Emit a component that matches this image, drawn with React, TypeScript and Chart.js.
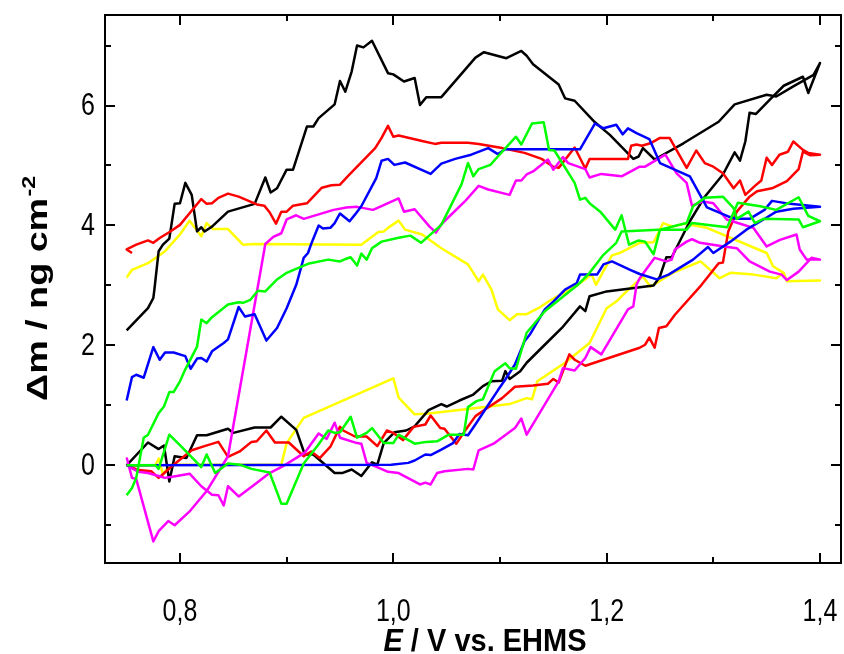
import React, { useEffect, useRef } from "react";
import { Chart, registerables } from "chart.js";

Chart.register(...registerables);

// Mass change Δm (ng cm^-2) against electrode potential E (V vs. EHMS),
// one closed loop per sweep: anodic branch first, then the return sweep.
const blackLoop: [number, number][] = [
  [0.75, 0.0], [0.77, 0.38], [0.78, 0.27], [0.785, 0.33], [0.79, -0.27], [0.795, 0.15],
  [0.806, 0.12], [0.816, 0.5], [0.825, 0.5], [0.845, 0.61], [0.85, 0.54], [0.87, 0.63],
  [0.885, 0.63], [0.895, 0.81], [0.909, 0.59], [0.917, 0.18], [0.925, 0.18], [0.945, -0.13],
  [0.952, -0.13], [0.961, -0.07], [0.97, -0.18], [0.98, 0.05], [0.985, 0.01], [0.991, 0.37],
  [1.001, 0.55], [1.012, 0.58], [1.02, 0.65], [1.033, 0.92], [1.045, 1.02], [1.05, 0.98],
  [1.062, 1.08], [1.075, 1.18], [1.084, 1.32], [1.092, 1.4], [1.102, 1.41], [1.105, 1.57],
  [1.109, 1.44], [1.119, 1.57], [1.125, 1.71], [1.142, 2.01], [1.158, 2.29], [1.175, 2.65],
  [1.18, 2.57], [1.184, 2.82], [1.2, 2.9], [1.244, 3.0], [1.25, 3.15], [1.256, 3.47],
  [1.261, 3.47], [1.278, 4.07], [1.292, 4.48], [1.309, 4.85], [1.32, 5.22], [1.325, 5.08],
  [1.33, 5.4], [1.334, 5.88], [1.34, 5.86], [1.353, 6.1], [1.366, 6.33], [1.378, 6.43],
  [1.384, 6.48], [1.389, 6.21], [1.4, 6.71],
  [1.394, 6.51], [1.375, 6.32], [1.359, 6.15], [1.35, 6.18], [1.32, 6.02], [1.305, 5.73],
  [1.272, 5.37], [1.245, 5.1], [1.234, 5.29], [1.23, 5.15], [1.225, 5.11], [1.203, 5.51],
  [1.189, 5.72], [1.17, 6.08], [1.161, 6.12], [1.155, 6.35], [1.131, 6.69], [1.125, 6.83],
  [1.12, 6.91], [1.106, 6.79], [1.085, 6.89], [1.077, 6.8], [1.045, 6.14], [1.031, 6.14],
  [1.025, 6.01], [1.02, 6.46], [1.01, 6.4], [1.0, 6.52], [0.995, 6.54], [0.98, 7.08],
  [0.972, 6.97], [0.966, 7.0], [0.961, 6.57], [0.955, 6.23], [0.95, 6.41], [0.945, 6.02],
  [0.93, 5.79], [0.925, 5.65], [0.919, 5.65], [0.906, 4.93], [0.9, 4.93], [0.891, 4.62],
  [0.885, 4.55], [0.88, 4.8], [0.87, 4.36], [0.845, 4.23], [0.83, 3.98], [0.823, 3.9],
  [0.82, 3.97], [0.816, 3.9], [0.811, 4.51], [0.805, 4.71], [0.8, 4.37], [0.795, 4.36],
  [0.79, 3.78], [0.784, 3.68], [0.78, 3.57], [0.776, 2.93], [0.775, 2.79], [0.77, 2.62],
  [0.75, 2.25],
];

const redLoop: [number, number][] = [
  [0.75, 0.0], [0.761, -0.08], [0.773, -0.1], [0.78, -0.21], [0.784, -0.15], [0.789, -0.07],
  [0.794, 0.01], [0.811, 0.25], [0.823, 0.32], [0.836, 0.39], [0.845, 0.14], [0.856, 0.23],
  [0.867, 0.39], [0.872, 0.4], [0.881, 0.58], [0.889, 0.38], [0.902, 0.38], [0.916, 0.15],
  [0.923, 0.23], [0.931, 0.12], [0.941, 0.31], [0.95, 0.64], [0.953, 0.58], [0.964, 0.48],
  [0.975, 0.48], [0.985, 0.32], [0.994, 0.58], [1.0, 0.54], [1.009, 0.42], [1.019, 0.64],
  [1.03, 0.68], [1.035, 0.83], [1.044, 0.62], [1.048, 0.61], [1.059, 0.36], [1.067, 0.57],
  [1.077, 0.82], [1.086, 0.93], [1.102, 1.12], [1.114, 1.31], [1.131, 1.33], [1.145, 1.36],
  [1.15, 1.44], [1.155, 1.38], [1.165, 1.85], [1.17, 1.76], [1.18, 1.66], [1.231, 1.96],
  [1.236, 2.01], [1.24, 2.13], [1.245, 1.96], [1.249, 2.29], [1.256, 2.32], [1.264, 2.51],
  [1.289, 3.01], [1.305, 3.37], [1.309, 3.38], [1.314, 3.9], [1.322, 4.23], [1.334, 4.48],
  [1.341, 4.57], [1.355, 4.62], [1.369, 4.74], [1.38, 4.94], [1.384, 5.23], [1.391, 5.17],
  [1.4, 5.18],
  [1.389, 5.21], [1.384, 5.26], [1.375, 5.4], [1.37, 5.23], [1.362, 5.18], [1.355, 5.01],
  [1.35, 5.13], [1.345, 4.75], [1.339, 4.66], [1.33, 4.51], [1.325, 4.75], [1.319, 4.62],
  [1.309, 4.87], [1.3, 4.98], [1.292, 5.04], [1.284, 5.25], [1.275, 4.96], [1.259, 5.46],
  [1.25, 5.46], [1.241, 5.37], [1.233, 5.33], [1.228, 5.35], [1.223, 5.33], [1.22, 5.11],
  [1.184, 5.11], [1.18, 4.95], [1.17, 5.3], [1.155, 4.96], [1.15, 4.98], [1.139, 5.11],
  [1.123, 5.21], [1.102, 5.29], [1.08, 5.36], [1.07, 5.38], [1.045, 5.38], [1.039, 5.36],
  [1.027, 5.41], [1.005, 5.5], [1.0, 5.48], [0.995, 5.66], [0.989, 5.46], [0.983, 5.29],
  [0.959, 4.85], [0.95, 4.68], [0.942, 4.67], [0.933, 4.63], [0.925, 4.48], [0.919, 4.37],
  [0.906, 4.33], [0.9, 4.23], [0.895, 4.23], [0.89, 4.03], [0.884, 4.22], [0.879, 4.33],
  [0.872, 4.35], [0.855, 4.48], [0.845, 4.53], [0.836, 4.46], [0.83, 4.37], [0.825, 4.36],
  [0.82, 4.44], [0.8, 4.01], [0.791, 3.9], [0.781, 3.79], [0.775, 3.71], [0.77, 3.75],
  [0.759, 3.68], [0.75, 3.6], [0.755, 3.54],
];

const blueLoop: [number, number][] = [
  [0.75, 0.0], [0.998, 0.01], [1.014, 0.04], [1.02, 0.08], [1.03, 0.18], [1.035, 0.17],
  [1.045, 0.26], [1.056, 0.37], [1.062, 0.52], [1.07, 0.5], [1.078, 0.71], [1.088, 0.98],
  [1.098, 1.25], [1.105, 1.43], [1.114, 1.68], [1.123, 2.07], [1.128, 2.18], [1.142, 2.6],
  [1.15, 2.73], [1.161, 2.93], [1.172, 3.04], [1.175, 3.18], [1.191, 3.18], [1.197, 3.35],
  [1.205, 3.4], [1.222, 3.26], [1.231, 3.19], [1.247, 3.1], [1.258, 3.18], [1.281, 3.43],
  [1.295, 3.64], [1.3, 3.54], [1.316, 3.73], [1.331, 3.93], [1.347, 4.1], [1.359, 4.23],
  [1.375, 4.28], [1.4, 4.31],
  [1.372, 4.36], [1.355, 4.41], [1.348, 4.26], [1.334, 4.11], [1.322, 4.11], [1.314, 4.15],
  [1.294, 4.3], [1.278, 4.82], [1.25, 5.04], [1.24, 5.44], [1.228, 5.54], [1.22, 5.62],
  [1.215, 5.52], [1.209, 5.68], [1.197, 5.62], [1.189, 5.7], [1.175, 5.27], [1.105, 5.27],
  [1.098, 5.19], [1.089, 5.29], [1.073, 5.18], [1.058, 5.11], [1.045, 5.03], [1.035, 4.86],
  [1.011, 5.05], [1.001, 5.01], [0.995, 5.11], [0.989, 5.08], [0.984, 4.79], [0.97, 4.32],
  [0.964, 4.18], [0.959, 4.07], [0.95, 4.2], [0.945, 4.04], [0.941, 3.96], [0.934, 3.95],
  [0.93, 4.0], [0.923, 3.69], [0.92, 3.54], [0.916, 3.46], [0.909, 3.01], [0.9, 2.62],
  [0.891, 2.29], [0.881, 2.08], [0.87, 2.52], [0.861, 2.48], [0.855, 2.64], [0.845, 2.1],
  [0.841, 2.04], [0.83, 1.9], [0.825, 1.73], [0.82, 1.79], [0.816, 1.78], [0.81, 1.61],
  [0.805, 1.82], [0.794, 1.88], [0.786, 1.88], [0.781, 1.76], [0.775, 1.97], [0.766, 1.46],
  [0.759, 1.51], [0.755, 1.47], [0.75, 1.08],
];

const yellowLoop: [number, number][] = [
  [0.75, 0.0], [0.777, 0.0], [0.78, 0.11], [0.784, -0.15], [0.791, 0.01], [0.895, 0.01],
  [0.9, 0.37], [0.916, 0.79], [1.0, 1.45], [1.005, 1.13], [1.02, 0.85], [1.031, 0.86],
  [1.08, 0.96], [1.109, 1.02], [1.125, 1.12], [1.13, 1.1], [1.135, 1.4], [1.161, 1.71],
  [1.184, 2.04], [1.2, 2.62], [1.209, 2.73], [1.217, 2.87], [1.234, 3.15], [1.241, 2.98],
  [1.262, 3.21], [1.288, 3.4], [1.306, 3.12], [1.316, 3.21], [1.338, 3.18], [1.359, 3.12],
  [1.366, 3.21], [1.369, 3.07], [1.4, 3.08],
  [1.369, 3.07], [1.366, 3.21], [1.356, 3.32], [1.35, 3.54], [1.294, 3.96], [1.273, 4.03],
  [1.262, 3.98], [1.253, 4.04], [1.244, 3.72], [1.231, 3.71], [1.212, 3.54], [1.205, 3.5],
  [1.19, 3.01], [1.186, 3.18], [1.173, 3.01], [1.148, 2.76], [1.136, 2.62], [1.125, 2.52],
  [1.116, 2.52], [1.109, 2.42], [1.098, 2.6], [1.092, 2.93], [1.084, 3.18], [1.08, 3.07],
  [1.07, 3.35], [1.045, 3.62], [1.027, 3.85], [1.011, 3.93], [1.005, 4.08], [0.995, 3.96],
  [0.991, 3.9], [0.986, 3.89], [0.97, 3.68], [0.87, 3.69], [0.859, 3.68], [0.845, 3.94],
  [0.831, 3.94], [0.825, 4.04], [0.82, 3.82], [0.809, 4.08], [0.8, 3.85], [0.786, 3.57],
  [0.77, 3.37], [0.755, 3.26], [0.75, 3.13],
];

const greenLoop: [number, number][] = [
  [0.75, 0.0], [0.777, 0.0], [0.78, -0.06], [0.79, 0.51], [0.802, 0.3], [0.82, -0.03],
  [0.825, 0.18], [0.833, -0.13], [0.845, 0.03], [0.856, 0.01], [0.867, -0.06], [0.884, -0.12],
  [0.895, -0.64], [0.9, -0.64], [0.916, 0.03], [0.93, 0.35], [0.939, 0.58], [0.945, 0.54],
  [0.95, 0.55], [0.96, 0.81], [0.966, 0.46], [0.975, 0.54], [0.98, 0.62], [0.991, 0.37],
  [1.0, 0.37], [1.005, 0.51], [1.02, 0.36], [1.031, 0.39], [1.041, 0.4], [1.052, 0.51],
  [1.066, 0.51], [1.07, 0.97], [1.078, 1.07], [1.084, 1.1], [1.095, 1.57], [1.105, 1.7],
  [1.109, 1.62], [1.115, 1.61], [1.125, 2.21], [1.142, 2.57], [1.173, 3.01], [1.184, 3.21],
  [1.197, 3.51], [1.209, 3.71], [1.214, 3.9], [1.248, 3.93], [1.275, 3.93], [1.28, 4.04],
  [1.313, 3.97], [1.323, 4.38], [1.344, 4.32], [1.359, 4.26], [1.38, 4.47], [1.389, 4.16],
  [1.4, 4.07],
  [1.384, 3.97], [1.38, 4.1], [1.347, 4.11], [1.339, 4.04], [1.333, 4.23], [1.322, 4.11],
  [1.319, 4.29], [1.309, 4.48], [1.292, 4.46], [1.281, 4.32], [1.275, 4.04], [1.25, 3.93],
  [1.244, 3.52], [1.236, 3.73], [1.23, 3.75], [1.221, 3.68], [1.214, 4.17], [1.208, 3.93],
  [1.194, 4.23], [1.184, 4.37], [1.18, 4.46], [1.175, 4.43], [1.17, 4.71], [1.151, 5.25],
  [1.146, 5.26], [1.141, 5.72], [1.13, 5.7], [1.12, 5.35], [1.115, 5.48], [1.098, 5.15],
  [1.091, 5.01], [1.08, 4.94], [1.075, 4.82], [1.07, 5.04], [1.064, 4.69], [1.045, 4.01],
  [1.026, 3.71], [1.016, 3.83], [1.006, 3.8], [0.989, 3.73], [0.98, 3.62], [0.975, 3.43],
  [0.97, 3.53], [0.966, 3.33], [0.96, 3.47], [0.955, 3.44], [0.95, 3.4], [0.939, 3.43],
  [0.92, 3.36], [0.9, 3.21], [0.891, 3.1], [0.886, 3.01], [0.88, 2.9], [0.873, 2.91],
  [0.866, 2.76], [0.859, 2.71], [0.855, 2.72], [0.845, 2.68], [0.83, 2.47], [0.825, 2.37],
  [0.82, 2.43], [0.816, 1.98], [0.805, 1.6], [0.8, 1.4], [0.794, 1.22], [0.79, 1.22],
  [0.785, 0.98], [0.78, 0.87], [0.77, 0.51], [0.766, 0.46], [0.759, -0.21], [0.755, -0.38],
  [0.75, -0.5],
];

const magentaLoop: [number, number][] = [
  [0.75, 0.0], [0.761, -0.11], [0.77, -0.13], [0.78, -0.18], [0.786, -0.21], [0.797, -0.18],
  [0.809, -0.14], [0.82, -0.35], [0.83, -0.49], [0.836, -0.5], [0.841, -0.67], [0.845, -0.35],
  [0.855, -0.52], [0.87, -0.32], [0.884, -0.13], [0.898, 0.0], [0.908, 0.11], [0.917, 0.21],
  [0.93, 0.53], [0.9375, 0.44], [0.945, 0.71], [0.95, 0.46], [0.966, 0.37], [0.97, 0.36],
  [0.975, 0.04], [0.986, -0.04], [0.995, -0.11], [1.005, -0.13], [1.025, -0.32], [1.03, -0.29],
  [1.035, -0.32], [1.041, -0.13], [1.048, -0.1], [1.07, -0.06], [1.075, -0.07], [1.08, 0.25],
  [1.094, 0.36], [1.114, 0.62], [1.12, 0.78], [1.125, 0.51], [1.155, 1.4], [1.159, 1.62],
  [1.17, 1.58], [1.18, 1.79], [1.185, 1.97], [1.195, 1.85], [1.22, 2.6], [1.225, 2.65],
  [1.228, 3.01], [1.231, 3.12], [1.245, 3.46], [1.256, 3.4], [1.261, 3.43], [1.264, 3.6],
  [1.275, 3.73], [1.28, 3.77], [1.2875, 3.71], [1.31, 3.65], [1.322, 3.62], [1.334, 3.4],
  [1.353, 3.23], [1.364, 3.18], [1.369, 3.09], [1.38, 3.23], [1.392, 3.46], [1.4, 3.43],
  [1.3875, 3.43], [1.381, 3.6], [1.378, 3.85], [1.3625, 3.76], [1.35, 3.65], [1.3375, 3.96],
  [1.323, 4.04], [1.3125, 4.1], [1.3, 4.37], [1.29, 4.4], [1.28, 4.33], [1.275, 4.71],
  [1.2656, 4.87], [1.255, 5.18], [1.236, 4.98], [1.231, 4.98], [1.214, 4.82], [1.195, 4.86],
  [1.184, 4.8], [1.18, 4.94], [1.164, 5.04], [1.159, 5.14], [1.15, 4.93], [1.145, 5.1],
  [1.131, 4.9], [1.125, 4.85], [1.12, 4.75], [1.115, 4.75], [1.109, 4.51], [1.089, 4.6],
  [1.08, 4.66], [1.067, 4.4], [1.045, 4.02], [1.04, 3.88], [1.034, 3.98], [1.02, 4.27],
  [1.01, 4.23], [1.005, 4.45], [0.981, 4.26], [0.966, 4.31], [0.956, 4.3], [0.944, 4.26],
  [0.916, 4.11], [0.909, 4.17], [0.9, 4.1], [0.895, 3.87], [0.8875, 3.81], [0.88, 3.69],
  [0.845, 0.15], [0.825, -0.43], [0.809, -0.77], [0.795, -1.0], [0.789, -0.93], [0.78, -1.1],
  [0.775, -1.27], [0.759, -0.23], [0.755, -0.21], [0.75, 0.13],
];

// Drawing order: first entry ends up on top.
const seriesList: { name: string; color: string; loop: [number, number][] }[] = [
  { name: "green", color: "#00ff00", loop: greenLoop },
  { name: "blue", color: "#0000ff", loop: blueLoop },
  { name: "magenta", color: "#ff00ff", loop: magentaLoop },
  { name: "red", color: "#ff0000", loop: redLoop },
  { name: "black", color: "#000000", loop: blackLoop },
  { name: "yellow", color: "#ffff00", loop: yellowLoop },
];

const xRange = { min: 0.7297, max: 1.4197 };
const yRange = { min: -1.63, max: 7.51 };
const xStep = 0.1;
const yStep = 1;
const xMajor = [0.8, 1.0, 1.2, 1.4];
const yMajor = [0, 2, 4, 6];

const FONT = "'Liberation Sans', Arial, Helvetica, sans-serif";
const TICK_SIZE = 25;
const TITLE_SIZE = 29;
// the lettering is drawn somewhat taller than it is wide
const TICK_STRETCH = 1.25;
const XTITLE_STRETCH = 1.1;
const YTITLE_STRETCH = 1.3;

const isXMajor = (v: number) => xMajor.some((m) => Math.abs(m - v) < 1e-6);
const isYMajor = (v: number) => yMajor.some((m) => Math.abs(m - v) < 1e-6);
const xLabel = (v: number) => v.toFixed(1).replace(".", ",");
const yLabel = (v: number) => String(Math.round(v));

// Text drawn at (x, y) with the glyphs stretched vertically around y.
function stretchedText(ctx: CanvasRenderingContext2D, text: string, x: number, y: number, sy: number) {
  ctx.save();
  ctx.translate(x, y);
  ctx.scale(1, sy);
  ctx.fillText(text, 0, 0);
  ctx.restore();
}

// Closed frame with inward-pointing ticks on all four sides, tick labels and titles.
const framePlugin = {
  id: "frameTicks",
  afterDatasetsDraw(chart: any) {
    const { ctx, chartArea: a, scales } = chart;
    const xs = scales.x;
    const ys = scales.y;
    ctx.save();
    ctx.strokeStyle = "#000";
    ctx.lineWidth = 2;
    ctx.lineCap = "butt";
    ctx.beginPath();
    for (const t of xs.ticks) {
      const px = Math.round(xs.getPixelForValue(t.value));
      const len = isXMajor(t.value) ? 10 : 6;
      ctx.moveTo(px, a.bottom);
      ctx.lineTo(px, a.bottom - len);
      ctx.moveTo(px, a.top);
      ctx.lineTo(px, a.top + len);
    }
    for (const t of ys.ticks) {
      const py = Math.round(ys.getPixelForValue(t.value));
      const len = isYMajor(t.value) ? 10 : 6;
      ctx.moveTo(a.left, py);
      ctx.lineTo(a.left + len, py);
      ctx.moveTo(a.right, py);
      ctx.lineTo(a.right - len, py);
    }
    ctx.stroke();
    ctx.strokeRect(a.left, a.top, a.right - a.left, a.bottom - a.top);
    ctx.restore();
  },
  afterDraw(chart: any) {
    const { ctx, chartArea: a, scales } = chart;
    const xs = scales.x;
    const ys = scales.y;
    ctx.save();
    ctx.fillStyle = "#000";

    // tick labels
    ctx.font = `${TICK_SIZE}px ${FONT}`;
    ctx.textBaseline = "middle";
    ctx.textAlign = "center";
    for (const t of xs.ticks) {
      if (!isXMajor(t.value)) continue;
      stretchedText(ctx, xLabel(t.value), xs.getPixelForValue(t.value), a.bottom + 49, TICK_STRETCH);
    }
    ctx.textAlign = "right";
    for (const t of ys.ticks) {
      if (!isYMajor(t.value)) continue;
      stretchedText(ctx, yLabel(t.value), a.left - 10, ys.getPixelForValue(t.value) + 1, TICK_STRETCH);
    }

    // x title: italic E followed by the unit text
    ctx.textAlign = "left";
    ctx.textBaseline = "alphabetic";
    const italic = `italic bold ${TITLE_SIZE}px ${FONT}`;
    const bold = `bold ${TITLE_SIZE}px ${FONT}`;
    const partA = "E";
    const partB = " / V vs. EHMS";
    ctx.font = italic;
    const wA = ctx.measureText(partA).width;
    ctx.font = bold;
    const wB = ctx.measureText(partB).width;
    const x0 = 485 - (wA + wB) / 2;
    const yBase = 651;
    ctx.font = italic;
    stretchedText(ctx, partA, x0, yBase, XTITLE_STRETCH);
    ctx.font = bold;
    stretchedText(ctx, partB, x0 + wA, yBase, XTITLE_STRETCH);

    // y title, rotated, with superscript exponent
    const main = "\u0394m / ng cm";
    const sup = "-2";
    const supFont = `bold ${Math.round(TITLE_SIZE * 0.62)}px ${FONT}`;
    ctx.font = bold;
    const wMain = ctx.measureText(main).width;
    ctx.font = supFont;
    const wSup = ctx.measureText(sup).width;
    ctx.save();
    ctx.translate(47, (a.top + a.bottom) / 2);
    ctx.rotate(-Math.PI / 2);
    ctx.scale(YTITLE_STRETCH, 1);
    const s0 = -(wMain + wSup) / 2;
    ctx.font = bold;
    ctx.fillText(main, s0, 0);
    ctx.font = supFont;
    ctx.fillText(sup, s0 + wMain + 1, -12);
    ctx.restore();

    ctx.restore();
  },
};

export default function App() {
  const canvasRef = useRef<HTMLCanvasElement | null>(null);

  useEffect(() => {
    document.body.style.margin = "0";
    const canvas = canvasRef.current;
    if (!canvas) return;

    const chart = new Chart(canvas, {
      type: "scatter",
      data: {
        datasets: seriesList.map((s) => ({
          label: s.name,
          data: s.loop.map(([x, y]) => ({ x, y })),
          showLine: true,
          borderColor: s.color,
          backgroundColor: s.color,
          borderWidth: 2.5,
          borderJoinStyle: "round" as const,
          pointRadius: 0,
          pointHoverRadius: 0,
          tension: 0,
          fill: false,
        })),
      },
      options: {
        animation: false,
        responsive: false,
        devicePixelRatio: 1,
        events: [],
        layout: { padding: { top: 15, right: 3, left: 0, bottom: 0 } },
        plugins: {
          legend: { display: false },
          tooltip: { enabled: false },
          title: { display: false },
        },
        scales: {
          x: {
            type: "linear",
            min: xRange.min,
            max: xRange.max,
            grid: { display: false, drawTicks: false },
            border: { display: false },
            afterFit: (scale: any) => {
              scale.height = 91;
              scale.paddingLeft = 0;
              scale.paddingRight = 0;
            },
            ticks: {
              display: false,
              stepSize: xStep,
              includeBounds: false,
              autoSkip: false,
              maxRotation: 0,
            },
          },
          y: {
            type: "linear",
            min: yRange.min,
            max: yRange.max,
            grid: { display: false, drawTicks: false },
            border: { display: false },
            afterFit: (scale: any) => {
              scale.width = 105;
              scale.paddingTop = 0;
              scale.paddingBottom = 0;
            },
            ticks: {
              display: false,
              stepSize: yStep,
              includeBounds: false,
              autoSkip: false,
            },
          },
        },
      },
      plugins: [framePlugin],
    });

    return () => {
      chart.destroy();
    };
  }, []);

  return (
    <div style={{ width: 844, height: 654, background: "#fff" }}>
      <canvas ref={canvasRef} width={844} height={654} style={{ display: "block", width: 844, height: 654 }} />
    </div>
  );
}
